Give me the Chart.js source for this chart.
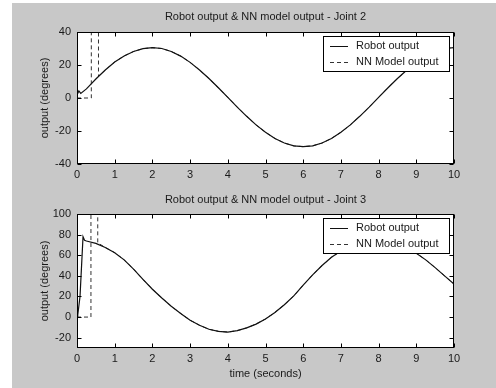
<!DOCTYPE html>
<html lang="en">
<head>
<meta charset="UTF-8">
<title>Robot output &amp; NN model output</title>
<script src="https://cdn.jsdelivr.net/npm/chart.js"></script>
<style>
    body { margin: 0; background: #fff; }
    #fig { position: absolute; left: 12px; top: 3px; width: 484px; height: 385px; background: #c8c8c8; }
    canvas { position: absolute; left: 0; }
    #joint2 { top: 0; }
    #joint3 { top: 185px; }
</style>
</head>
<body>
<div id="fig"></div>
<canvas id="joint2" width="496" height="185"></canvas>
<canvas id="joint3" width="496" height="203"></canvas>

<script>
// values
const xTicks = [0, 1, 2, 3, 4, 5, 6, 7, 8, 9, 10];
const yTicksJ2 = [-40, -20, 0, 20, 40];
const yTicksJ3 = [-20, 0, 20, 40, 60, 80, 100];

// Joint 2
const timeRobotJ2 = [0, 0.05, 0.1, 0.25, 0.5, 0.75, 1, 1.25, 1.5, 1.75, 2, 2.25, 2.5, 2.75, 3, 3.25, 3.5, 3.75, 4,
    4.25, 4.5, 4.75, 5, 5.25, 5.5, 5.75, 6, 6.25, 6.5, 6.75, 7, 7.25, 7.5, 7.75, 8, 8.25, 8.5, 8.75, 9, 9.25, 9.5, 9.75, 10];
const robotJ2 = [1.8, 4.3, 2.8, 5.5, 11.5, 17, 21.8, 25.5, 28.2, 29.9, 30.5, 30, 28.2, 25.4, 21.6, 17, 11.8, 6.2, 0.4,
    -5.5, -11.1, -16.3, -20.8, -24.5, -27.3, -29, -29.5, -29, -27.3, -24.5, -20.8, -16.3, -11.1, -5.5, 0.4, 6.2, 11.8, 17, 21.6, 25.4, 28.2, 30, 30.5];
const timeNnJ2 = [0, 0.38, 0.38, 0.57, 0.57, 0.75, 1, 1.25, 1.5, 1.75, 2, 2.25, 2.5, 2.75, 3, 3.25, 3.5, 3.75, 4,
    4.25, 4.5, 4.75, 5, 5.25, 5.5, 5.75, 6, 6.25, 6.5, 6.75, 7, 7.25, 7.5, 7.75, 8, 8.25, 8.5, 8.75, 9, 9.25, 9.5, 9.75, 10];
const nnJ2 = [0, 0, 60, 60, 13.2, 17, 21.8, 25.5, 28.2, 29.9, 30.5, 30, 28.2, 25.4, 21.6, 17, 11.8, 6.2, 0.4,
    -5.5, -11.1, -16.3, -20.8, -24.5, -27.3, -29, -29.5, -29, -27.3, -24.5, -20.8, -16.3, -11.1, -5.5, 0.4, 6.2, 11.8, 17, 21.6, 25.4, 28.2, 30, 30.5];

// Joint 3
const timeRobotJ3 = [0, 0.02, 0.08, 0.16, 0.2, 0.25, 0.5, 0.75, 1, 1.25, 1.5, 1.75, 2, 2.25, 2.5, 2.75, 3, 3.25, 3.5, 3.75, 4,
    4.25, 4.5, 4.75, 5, 5.25, 5.5, 5.75, 6, 6.25, 6.5, 6.75, 7, 7.25, 7.5, 7.75, 8, 8.25, 8.5, 8.75, 9, 9.25, 9.5, 9.75, 10];
const robotJ3 = [0, 2, 20, 78, 74.5, 73.8, 71.5, 67.5, 62.5, 55.5, 46.5, 36.5, 27, 18.5, 10.5, 3.5, -3, -8, -11.8, -13.8, -14.5,
    -13.2, -10.5, -6.8, -1.8, 4.5, 12, 20.5, 31, 41, 50, 58, 64, 68.5, 71.5, 73.3, 74, 73.3, 71, 67, 62, 55.5, 48, 40, 32];
const timeNnJ3 = [0, 0.37, 0.37, 0.55, 0.55, 0.75, 1, 1.25, 1.5, 1.75, 2, 2.25, 2.5, 2.75, 3, 3.25, 3.5, 3.75, 4,
    4.25, 4.5, 4.75, 5, 5.25, 5.5, 5.75, 6, 6.25, 6.5, 6.75, 7, 7.25, 7.5, 7.75, 8, 8.25, 8.5, 8.75, 9, 9.25, 9.5, 9.75, 10];
const nnJ3 = [0, 0, 130, 130, 72, 67.5, 62.5, 55.5, 46.5, 36.5, 27, 18.5, 10.5, 3.5, -3, -8, -11.8, -13.8, -14.5,
    -13.2, -10.5, -6.8, -1.8, 4.5, 12, 20.5, 31, 41, 50, 58, 64, 68.5, 71.5, 73.3, 74, 73.3, 71, 67, 62, 55.5, 48, 40, 32];

Chart.defaults.font.family = "'Liberation Sans', Arial, sans-serif";
Chart.defaults.font.size = 11;
Chart.defaults.color = '#1a1a1a';

const pairs = (xs, ys) => xs.map((x, i) => ({ x: x, y: ys[i] }));

// white plot area, box with inward ticks on all sides, legend inside the axes
const matlabAxes = {
    id: 'matlabAxes',
    beforeDraw(chart) {
        const a = chart.chartArea;
        chart.ctx.save();
        chart.ctx.fillStyle = '#fff';
        chart.ctx.fillRect(a.left, a.top, a.width, a.height);
        chart.ctx.restore();
    },
    afterDatasetsDraw(chart) {
        const { ctx, chartArea: a, scales: { x, y } } = chart;
        const L = Math.round(a.left) + 0.5, R = Math.round(a.right) - 0.5;
        const T = Math.round(a.top) + 0.5, B = Math.round(a.bottom) - 0.5;
        ctx.save();
        ctx.strokeStyle = '#000';
        ctx.lineWidth = 1;
        ctx.beginPath();
        x.ticks.forEach(t => {
            const px = Math.round(x.getPixelForValue(t.value)) + 0.5;
            ctx.moveTo(px, B); ctx.lineTo(px, B - 4);
            ctx.moveTo(px, T); ctx.lineTo(px, T + 4);
        });
        y.ticks.forEach(t => {
            const py = Math.round(y.getPixelForValue(t.value)) + 0.5;
            ctx.moveTo(L, py); ctx.lineTo(L + 4, py);
            ctx.moveTo(R, py); ctx.lineTo(R - 4, py);
        });
        ctx.stroke();
        ctx.strokeRect(L, T, R - L, B - T);

        // legend
        const lx = Math.round(a.right) - 131, ly = Math.round(a.top) + 4, lw = 126, lh = 35;
        ctx.fillStyle = '#fff';
        ctx.fillRect(lx, ly, lw, lh);
        ctx.strokeRect(lx + 0.5, ly + 0.5, lw, lh);
        ctx.font = "11px 'Liberation Sans', Arial, sans-serif";
        ctx.textBaseline = 'middle';
        ctx.textAlign = 'left';
        chart.data.datasets.forEach((ds, i) => {
            const ry = ly + 10 + i * 16;
            ctx.strokeStyle = ds.borderColor;
            ctx.setLineDash(ds.borderDash || []);
            ctx.beginPath();
            ctx.moveTo(lx + 7, ry + 0.5);
            ctx.lineTo(lx + 25, ry + 0.5);
            ctx.stroke();
            ctx.setLineDash([]);
            ctx.fillStyle = '#1a1a1a';
            ctx.fillText(ds.label, lx + 33, ry);
        });
        ctx.restore();
    }
};

function makeChart(id, o) {
    return new Chart(document.getElementById(id), {
        type: 'line',
        data: {
            datasets: [
                { label: 'Robot output', data: pairs(o.tRobot, o.robot), borderColor: '#111', borderWidth: 1.2, pointRadius: 0 },
                { label: 'NN Model output', data: pairs(o.tNn, o.nn), borderColor: '#333', borderWidth: 1, borderDash: [4, 3], pointRadius: 0 }
            ]
        },
        options: {
            responsive: false,
            animation: false,
            events: [],
            layout: { padding: { left: 0, right: 42, top: 0, bottom: 0 } },
            plugins: {
                legend: { display: false },
                tooltip: { enabled: false },
                title: {
                    display: true, fullSize: false, text: o.title, color: '#1a1a1a',
                    font: { size: 11, weight: 'normal' }, padding: o.titlePad
                }
            },
            scales: {
                x: {
                    type: 'linear', min: 0, max: 10,
                    grid: { display: false, drawTicks: false },
                    border: { display: false },
                    afterBuildTicks: s => { s.ticks = xTicks.map(v => ({ value: v })); },
                    afterFit: s => { s.height = o.xHeight; },
                    ticks: { padding: 4, maxRotation: 0, autoSkip: false },
                    title: { display: !!o.xTitle, text: o.xTitle || '', font: { size: 11 }, padding: { top: 0, bottom: 7.4 } }
                },
                y: {
                    min: o.yMin, max: o.yMax,
                    grid: { display: false, drawTicks: false },
                    border: { display: false },
                    afterBuildTicks: s => { s.ticks = o.yTicks.map(v => ({ value: v })); },
                    afterFit: s => { s.width = 77; },
                    ticks: { padding: 6, autoSkip: false },
                    title: { display: true, text: 'output (degrees)', font: { size: 11 }, padding: { top: 38.4, bottom: 0 } }
                }
            }
        },
        plugins: [matlabAxes]
    });
}

makeChart('joint2', {
    title: 'Robot output & NN model output - Joint 2',
    titlePad: { top: 10.4, bottom: 8.4 },
    xHeight: 21,
    yMin: -40, yMax: 40, yTicks: yTicksJ2,
    tRobot: timeRobotJ2, robot: robotJ2, tNn: timeNnJ2, nn: nnJ2
});

makeChart('joint3', {
    title: 'Robot output & NN model output - Joint 3',
    titlePad: { top: 8.4, bottom: 7.4 },
    xHeight: 40,
    xTitle: 'time (seconds)',
    yMin: -30, yMax: 100, yTicks: yTicksJ3,
    tRobot: timeRobotJ3, robot: robotJ3, tNn: timeNnJ3, nn: nnJ3
});
</script>
</body>
</html>
